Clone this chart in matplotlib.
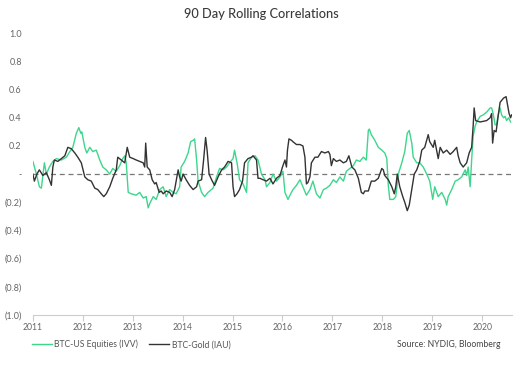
import matplotlib
matplotlib.use('Agg')

import numpy as np
import matplotlib.pyplot as plt

plt.rcParams['font.family'] = ['Lato', 'DejaVu Sans']

# 数据：90 日滚动相关系数（横轴为小数年份）
ivv_t = [2011.00, 2011.07, 2011.13, 2011.17, 2011.23, 2011.27, 2011.33, 2011.40, 2011.47, 2011.57,
         2011.67, 2011.74, 2011.80, 2011.87, 2011.92, 2011.96, 2011.98, 2012.04, 2012.08, 2012.14,
         2012.20, 2012.27, 2012.34, 2012.40, 2012.47, 2012.54, 2012.60, 2012.67, 2012.74, 2012.80,
         2012.84, 2012.87, 2012.91, 2012.97, 2013.07, 2013.14, 2013.21, 2013.27, 2013.31, 2013.34,
         2013.41, 2013.47, 2013.54, 2013.61, 2013.67, 2013.74, 2013.81, 2013.87, 2013.94, 2013.97,
         2014.04, 2014.11, 2014.16, 2014.21, 2014.24, 2014.28, 2014.31, 2014.38, 2014.44, 2014.51,
         2014.61, 2014.68, 2014.74, 2014.81, 2014.88, 2014.94, 2015.01, 2015.04, 2015.09, 2015.14,
         2015.21, 2015.28, 2015.31, 2015.38, 2015.45, 2015.51, 2015.58, 2015.65, 2015.68, 2015.75,
         2015.81, 2015.88, 2015.95, 2016.01, 2016.05, 2016.11, 2016.15, 2016.21, 2016.28, 2016.35,
         2016.41, 2016.48, 2016.55, 2016.61, 2016.68, 2016.75, 2016.82, 2016.88, 2016.95, 2017.02,
         2017.08, 2017.15, 2017.22, 2017.28, 2017.35, 2017.42, 2017.48, 2017.55, 2017.62, 2017.68,
         2017.72, 2017.74, 2017.78, 2017.85, 2017.92, 2017.99, 2018.05, 2018.09, 2018.12, 2018.15,
         2018.22, 2018.27, 2018.32, 2018.39, 2018.45, 2018.50, 2018.54, 2018.59, 2018.62, 2018.69,
         2018.75, 2018.82, 2018.89, 2018.95, 2019.01, 2019.05, 2019.12, 2019.19, 2019.26, 2019.29,
         2019.32, 2019.39, 2019.46, 2019.52, 2019.59, 2019.66, 2019.69, 2019.72, 2019.76, 2019.79,
         2019.82, 2019.86, 2019.89, 2019.96, 2020.02, 2020.09, 2020.16, 2020.19, 2020.22, 2020.26,
         2020.29, 2020.32, 2020.36, 2020.39, 2020.43, 2020.46, 2020.49, 2020.53, 2020.57]
ivv_v = [0.09, 0.00, -0.09, -0.10, 0.08, 0.00, 0.05, 0.09, 0.11, 0.10,
         0.12, 0.16, 0.19, 0.29, 0.33, 0.29, 0.30, 0.19, 0.15, 0.19,
         0.16, 0.17, 0.10, 0.05, 0.03, 0.00, 0.04, 0.02, 0.06, 0.11,
         0.13, 0.08, -0.13, -0.14, -0.15, -0.13, -0.17, -0.16, -0.24, -0.21,
         -0.16, -0.18, -0.11, -0.09, -0.16, -0.11, -0.13, -0.14, -0.09, 0.05,
         0.09, 0.15, 0.23, 0.24, 0.25, 0.10, -0.05, -0.13, -0.16, -0.13,
         -0.10, -0.02, 0.04, 0.03, 0.05, 0.08, 0.11, 0.17, 0.08, -0.04,
         -0.07, -0.13, 0.08, 0.12, 0.13, 0.10, 0.00, -0.04, -0.09, -0.06,
         0.00, -0.05, -0.02, 0.02, -0.13, -0.18, -0.15, -0.11, -0.08, -0.04,
         -0.09, -0.15, -0.11, -0.05, -0.14, -0.17, -0.11, -0.10, -0.08, -0.04,
         -0.06, -0.02, -0.05, 0.02, 0.04, 0.06, 0.10, 0.09, 0.12, 0.10,
         0.31, 0.32, 0.28, 0.24, 0.19, 0.17, 0.15, 0.11, -0.08, -0.18,
         -0.18, -0.16, 0.00, 0.08, 0.16, 0.29, 0.31, 0.22, 0.12, 0.08,
         0.08, 0.05, 0.00, -0.05, -0.18, -0.09, -0.16, -0.13, -0.18, -0.22,
         -0.16, -0.11, -0.05, -0.04, -0.02, 0.03, -0.01, 0.05, -0.09, 0.10,
         0.27, 0.34, 0.37, 0.41, 0.42, 0.44, 0.47, 0.47, 0.43, 0.35,
         0.35, 0.42, 0.47, 0.42, 0.40, 0.41, 0.38, 0.40, 0.37]

iau_t = [2011.00, 2011.03, 2011.08, 2011.13, 2011.20, 2011.27, 2011.33, 2011.37, 2011.40, 2011.43,
         2011.50, 2011.57, 2011.64, 2011.70, 2011.77, 2011.84, 2011.90, 2011.97, 2012.04, 2012.10,
         2012.17, 2012.24, 2012.30, 2012.37, 2012.42, 2012.47, 2012.54, 2012.60, 2012.67, 2012.70,
         2012.77, 2012.84, 2012.89, 2012.94, 2013.01, 2013.07, 2013.14, 2013.21, 2013.24, 2013.26,
         2013.29, 2013.34, 2013.39, 2013.44, 2013.47, 2013.53, 2013.57, 2013.61, 2013.67, 2013.74,
         2013.79, 2013.84, 2013.91, 2013.94, 2013.97, 2014.01, 2014.07, 2014.14, 2014.21, 2014.28,
         2014.31, 2014.38, 2014.42, 2014.46, 2014.49, 2014.53, 2014.58, 2014.64, 2014.71, 2014.78,
         2014.84, 2014.91, 2014.98, 2015.01, 2015.04, 2015.09, 2015.14, 2015.20, 2015.24, 2015.31,
         2015.38, 2015.41, 2015.48, 2015.51, 2015.55, 2015.61, 2015.68, 2015.75, 2015.81, 2015.88,
         2015.95, 2016.00, 2016.05, 2016.08, 2016.10, 2016.13, 2016.18, 2016.21, 2016.28, 2016.35,
         2016.41, 2016.45, 2016.48, 2016.51, 2016.55, 2016.58, 2016.65, 2016.71, 2016.78, 2016.85,
         2016.92, 2016.95, 2016.98, 2017.02, 2017.08, 2017.15, 2017.22, 2017.28, 2017.33, 2017.39,
         2017.45, 2017.52, 2017.58, 2017.62, 2017.65, 2017.72, 2017.78, 2017.85, 2017.92, 2017.99,
         2018.02, 2018.05, 2018.12, 2018.19, 2018.24, 2018.27, 2018.30, 2018.35, 2018.41, 2018.45,
         2018.50, 2018.54, 2018.59, 2018.64, 2018.69, 2018.75, 2018.79, 2018.85, 2018.89, 2018.92,
         2018.95, 2019.02, 2019.05, 2019.12, 2019.16, 2019.22, 2019.29, 2019.36, 2019.42, 2019.49,
         2019.52, 2019.56, 2019.62, 2019.69, 2019.74, 2019.79, 2019.82, 2019.84, 2019.87, 2019.96,
         2020.09, 2020.16, 2020.19, 2020.21, 2020.24, 2020.28, 2020.32, 2020.36, 2020.43, 2020.48,
         2020.50, 2020.54, 2020.57, 2020.59]
iau_v = [0.00, -0.05, 0.00, 0.03, -0.01, 0.01, -0.04, -0.08, 0.05, 0.10,
         0.09, 0.11, 0.13, 0.19, 0.18, 0.15, 0.12, 0.08, -0.02, -0.04,
         -0.05, -0.10, -0.11, -0.14, -0.16, -0.14, -0.09, -0.03, 0.03, 0.12,
         0.10, 0.08, 0.19, 0.12, 0.11, 0.10, 0.09, 0.08, 0.05, 0.22,
         0.05, 0.03, -0.04, -0.07, -0.06, -0.13, -0.12, -0.14, -0.12, -0.13,
         -0.16, -0.11, 0.03, -0.02, -0.05, 0.00, -0.04, -0.08, -0.11, -0.09,
         -0.05, -0.04, 0.10, 0.26, 0.17, 0.00, -0.04, -0.08, -0.02, 0.03,
         0.05, 0.09, 0.08, -0.09, -0.16, -0.14, -0.11, -0.05, 0.08, 0.11,
         0.12, 0.13, 0.10, -0.03, -0.03, -0.04, -0.05, -0.03, -0.07, -0.03,
         -0.01, 0.05, 0.10, 0.05, 0.17, 0.25, 0.24, 0.23, 0.21, 0.21,
         0.20, 0.12, -0.07, -0.06, -0.02, 0.08, 0.12, 0.12, 0.16, 0.15,
         0.16, 0.14, 0.06, 0.11, 0.09, 0.10, 0.08, 0.09, 0.13, 0.05,
         0.03, -0.03, -0.13, -0.14, -0.12, -0.12, -0.05, -0.05, -0.03, 0.04,
         0.03, -0.01, -0.04, -0.09, -0.14, -0.09, 0.00, -0.09, -0.16, -0.20,
         -0.26, -0.22, -0.11, 0.00, 0.03, 0.09, 0.17, 0.19, 0.24, 0.28,
         0.23, 0.19, 0.24, 0.11, 0.19, 0.15, 0.17, 0.14, 0.16, 0.19,
         0.13, 0.08, 0.05, 0.08, 0.15, 0.19, 0.34, 0.47, 0.38, 0.37,
         0.38, 0.40, 0.43, 0.22, 0.31, 0.30, 0.41, 0.51, 0.54, 0.55,
         0.51, 0.43, 0.40, 0.42]

years = list(range(2011, 2021))
y_ticks = [1.0, 0.8, 0.6, 0.4, 0.2, 0.0, -0.2, -0.4, -0.6, -0.8, -1.0]
y_labels = ['1.0', '0.8', '0.6', '0.4', '0.2', '-', '(0.2)', '(0.4)', '(0.6)', '(0.8)', '(1.0)']

green = '#3dd68c'
dark = '#333333'
grey = '#666666'

fig = plt.figure(figsize=(5.22, 3.70), dpi=100)
ax = fig.add_axes([0.063, 0.149, 0.918, 0.761])

ax.plot(ivv_t, ivv_v, color=green, lw=1.0, label='BTC-US Equities (IVV)')
ax.plot(iau_t, iau_v, color=dark, lw=1.0, label='BTC-Gold (IAU)')
ax.axhline(0, color='#777777', lw=0.9, ls=(0, (4, 3)), zorder=0)

ax.set_xlim(2011, 2020.6)
ax.set_ylim(-1.0, 1.0)
ax.set_xticks(years)
ax.set_xticklabels([str(y) for y in years])
ax.set_yticks(y_ticks)
ax.set_yticklabels(y_labels)

for s in ['top', 'right', 'left']:
    ax.spines[s].set_visible(False)
ax.spines['bottom'].set_color('#cccccc')
ax.tick_params(axis='y', length=0, labelsize=6.5, colors=grey, pad=8)
ax.tick_params(axis='x', length=4, width=0.8, color='#cccccc', labelsize=6.2, labelcolor=grey, pad=2)

fig.text(0.5, 0.962, '90 Day Rolling Correlations', ha='center', va='center',
         fontsize=9.2, color='#3a3a3a', fontweight='medium')

leg = ax.legend(loc='upper left', bbox_to_anchor=(-0.002, -0.088), ncol=2, frameon=False,
                fontsize=6.2, handlelength=2.3, handletextpad=0.3, columnspacing=1.3,
                borderaxespad=0, borderpad=0)
for t in leg.get_texts():
    t.set_color('#555555')

fig.text(0.958, 0.068, 'Source: NYDIG, Bloomberg', ha='right', va='center',
         fontsize=6.2, color='#444444')

plt.savefig('out.png', dpi=100)
